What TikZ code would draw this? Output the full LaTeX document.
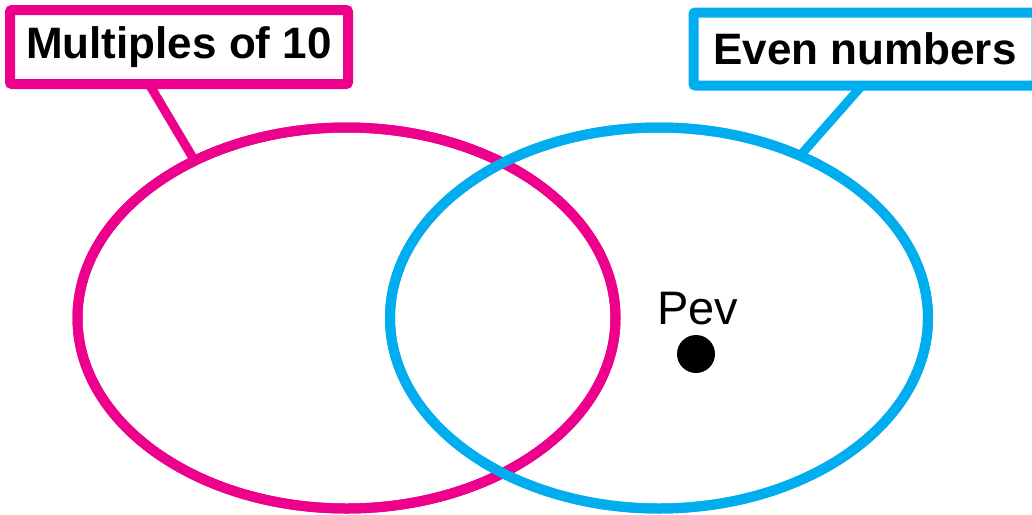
\documentclass[tikz,border=0pt]{standalone}
\usepackage{fontspec}
\setmainfont{Liberation Sans}
\usetikzlibrary{shapes.geometric,calc}
\definecolor{vmag}{HTML}{EC008C}
\definecolor{vblue}{HTML}{00AEEF}
\tikzset{
  setell/.style={ellipse, draw=#1, line width=10pt, inner sep=0pt, outer sep=0pt},
  labelbox/.style={draw=#1, line width=10pt, rounded corners=2pt, inner sep=0pt, outer sep=0pt,
    font=\fontsize{44}{50}\selectfont\bfseries},
  leader/.style={draw=#1, line width=9pt},
  pevlabel/.style={font=\fontsize{47}{54}\selectfont, inner sep=0pt}
}
\begin{document}
\begin{tikzpicture}[x=1pt,y=-1pt]
\useasboundingbox (0,0) rectangle (1032,514);
% label boxes
\node[labelbox=vmag, minimum width=338pt, minimum height=74pt] (mbox) at (179,47) {Multiples of 10};
\node[labelbox=vblue, minimum width=343pt, minimum height=73pt] (bbox) at (865,49) {Even numbers};
% ellipses (nodes)
\node[setell=vmag, minimum width=538pt, minimum height=381pt] (m) at (346.5,318) {};
\node[setell=vblue, minimum width=538pt, minimum height=381pt] (b) at (659,318) {};
% leaders
\draw[leader=vmag] ([xshift=-30pt]mbox.south) -- (m.134);
\draw[leader=vblue] ([xshift=-3pt]bbox.south) -- (b.49);
% redraw ellipses on top of leaders
\draw[vmag, line width=10pt] (346.5,318) ellipse [x radius=269, y radius=190.5];
\draw[vblue, line width=10pt] (659,318) ellipse [x radius=269, y radius=190.5];
% element
\node[circle, fill=black, minimum size=38pt, inner sep=0pt] (pevdot) at (696,354) {};
\node[pevlabel, anchor=base] (pev) at (698,324) {Pev};
\end{tikzpicture}
\end{document}
